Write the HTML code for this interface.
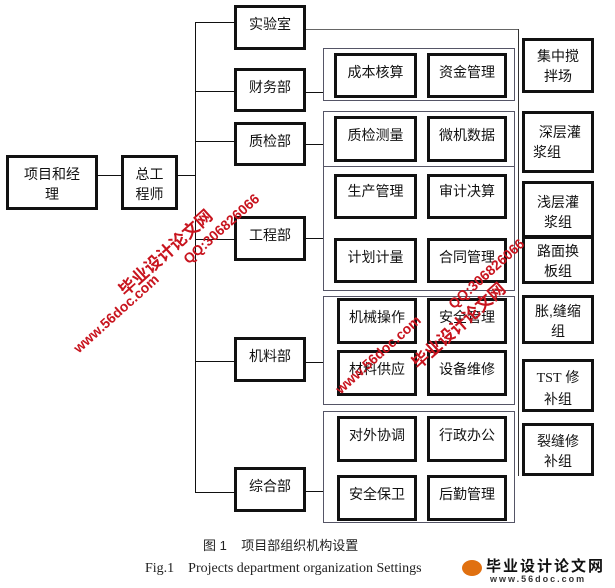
<!DOCTYPE html>
<html><head><meta charset="utf-8"><style>
body{margin:0;width:615px;height:588px;background:#fff;position:relative;overflow:hidden;font-family:"Liberation Sans","Noto Sans CJK SC",sans-serif;}
.b{position:absolute;border:3px solid #111;box-sizing:border-box;font-size:14px;text-align:center;line-height:20px;padding-top:6px;color:#111;background:#fff}
.g{position:absolute;border:1px solid #556;box-sizing:border-box}
.h{position:absolute;height:1px;background:#111}
.v{position:absolute;width:1px;background:#111}
.wm{position:absolute;color:#c8141e;font-weight:bold;transform-origin:left top;transform:rotate(-42deg);white-space:nowrap}
</style></head><body>
<div class="b" style="left:6px;top:155px;width:92px;height:55px;padding-top:6px">项目和经<br>理</div>
<div class="h" style="left:98px;top:175px;width:23px"></div>
<div class="b" style="left:121px;top:155px;width:57px;height:55px;padding-top:6px">总工<br>程师</div>
<div class="h" style="left:178px;top:175px;width:17px"></div>
<div class="v" style="left:195px;top:22px;height:471px"></div>
<div class="h" style="left:195px;top:22px;width:39px"></div>
<div class="h" style="left:195px;top:91px;width:39px"></div>
<div class="h" style="left:195px;top:141px;width:39px"></div>
<div class="h" style="left:195px;top:239px;width:39px"></div>
<div class="h" style="left:195px;top:361px;width:39px"></div>
<div class="h" style="left:195px;top:492px;width:39px"></div>
<div class="b" style="left:234px;top:5px;width:72px;height:45px">实验室</div>
<div class="b" style="left:234px;top:68px;width:72px;height:44px">财务部</div>
<div class="b" style="left:234px;top:122px;width:72px;height:44px">质检部</div>
<div class="b" style="left:234px;top:216px;width:72px;height:45px">工程部</div>
<div class="b" style="left:234px;top:337px;width:72px;height:45px">机料部</div>
<div class="b" style="left:234px;top:467px;width:72px;height:45px">综合部</div>
<div class="h" style="left:306px;top:92px;width:17px"></div>
<div class="h" style="left:306px;top:144px;width:17px"></div>
<div class="h" style="left:306px;top:238px;width:17px"></div>
<div class="h" style="left:306px;top:362px;width:17px"></div>
<div class="h" style="left:306px;top:491px;width:17px"></div>
<div class="h" style="left:306px;top:29px;width:213px;background:#666"></div>
<div class="v" style="left:518px;top:29px;height:447px;background:#333"></div>
<div class="g" style="left:323px;top:48px;width:192px;height:53px"></div>
<div class="g" style="left:323px;top:111px;width:192px;height:56px"></div>
<div class="g" style="left:323px;top:166px;width:192px;height:125px"></div>
<div class="g" style="left:323px;top:296px;width:192px;height:109px"></div>
<div class="g" style="left:323px;top:411px;width:192px;height:112px"></div>
<div class="b" style="left:334px;top:53px;width:83px;height:45px">成本核算</div>
<div class="b" style="left:427px;top:53px;width:80px;height:45px">资金管理</div>
<div class="b" style="left:334px;top:116px;width:83px;height:46px">质检测量</div>
<div class="b" style="left:427px;top:116px;width:80px;height:46px">微机数据</div>
<div class="b" style="left:334px;top:174px;width:83px;height:45px;padding-top:4px">生产管理</div>
<div class="b" style="left:427px;top:174px;width:80px;height:45px;padding-top:4px">审计决算</div>
<div class="b" style="left:334px;top:238px;width:83px;height:45px">计划计量</div>
<div class="b" style="left:427px;top:238px;width:80px;height:45px">合同管理</div>
<div class="b" style="left:337px;top:298px;width:80px;height:46px">机械操作</div>
<div class="b" style="left:427px;top:298px;width:80px;height:46px">安全管理</div>
<div class="b" style="left:337px;top:350px;width:80px;height:46px">材料供应</div>
<div class="b" style="left:427px;top:350px;width:80px;height:46px">设备维修</div>
<div class="b" style="left:337px;top:416px;width:80px;height:46px">对外协调</div>
<div class="b" style="left:427px;top:416px;width:80px;height:46px">行政办公</div>
<div class="b" style="left:337px;top:475px;width:80px;height:46px">安全保卫</div>
<div class="b" style="left:427px;top:475px;width:80px;height:46px">后勤管理</div>
<div class="b" style="left:522px;top:38px;width:72px;height:55px;padding-top:5px">集中搅<br>拌场</div>
<div class="b" style="left:522px;top:111px;width:72px;height:62px;padding-top:8px">&nbsp;深层灌<br><span style="margin-left:-22px">浆组</span></div>
<div class="b" style="left:522px;top:181px;width:72px;height:57px;padding-top:8px">浅层灌<br>浆组</div>
<div class="b" style="left:522px;top:236px;width:72px;height:48px;padding-top:2px">路面换<br>板组</div>
<div class="b" style="left:522px;top:295px;width:72px;height:49px;padding-top:3px">胀,缝缩<br>组</div>
<div class="b" style="left:522px;top:359px;width:72px;height:53px;padding-top:5px"><span style="font-family:'Liberation Serif'">TST</span> 修<br>补组</div>
<div class="b" style="left:522px;top:423px;width:72px;height:53px;padding-top:5px">裂缝修<br>补组</div>
<div style="position:absolute;left:203px;top:535px;font-size:13px;color:#222">图 1&nbsp;&nbsp;&nbsp;&nbsp;项目部组织机构设置</div>
<div style="position:absolute;left:145px;top:561px;font-size:14px;font-family:'Liberation Serif',serif;color:#222;white-space:nowrap">Fig.1&nbsp;&nbsp;&nbsp;&nbsp;Projects department organization Settings</div>
<div style="position:absolute;left:462px;top:560px;width:20px;height:16px;border-radius:50%;background:#e07010"></div>
<div style="position:absolute;left:486px;top:555px;font-size:15px;font-weight:bold;letter-spacing:2px;color:#111;white-space:nowrap">毕业设计论文网</div>
<div style="position:absolute;left:490px;top:574px;font-size:9px;font-weight:bold;color:#333;letter-spacing:2px;white-space:nowrap">www.56doc.com</div>
<div class="wm" style="left:112px;top:282px;font-size:17px">毕业设计论文网</div>
<div class="wm" style="left:180px;top:255px;font-size:14px">QQ:306826066</div>
<div class="wm" style="left:70px;top:344px;font-size:14px">www.56doc.com</div>
<div class="wm" style="left:332px;top:385px;font-size:14px">www.56doc.com</div>
<div class="wm" style="left:405px;top:355px;font-size:17px">毕业设计论文网</div>
<div class="wm" style="left:445px;top:300px;font-size:14px">QQ:306826066</div>
</body></html>
